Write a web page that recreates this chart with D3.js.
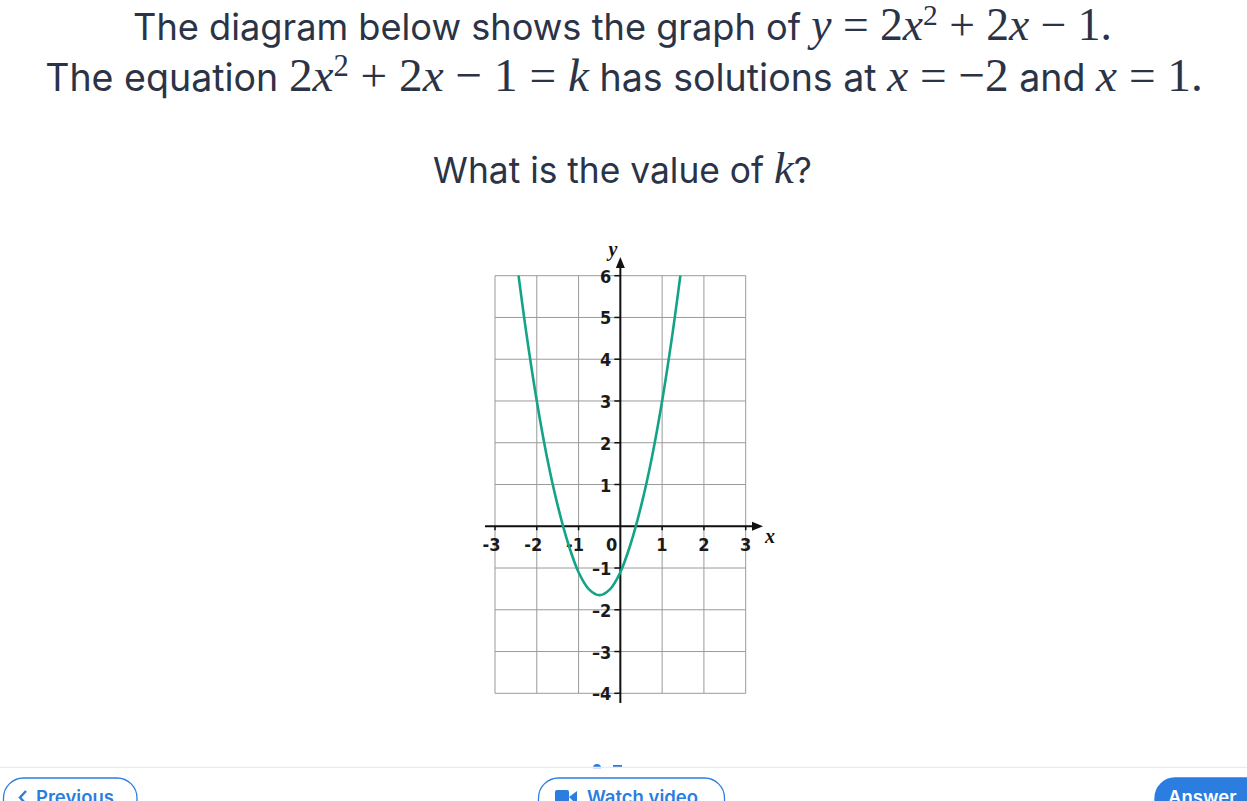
<!DOCTYPE html>
<html>
<head>
<meta charset="utf-8">
<script src="https://cdn.jsdelivr.net/npm/d3@7"></script>
<style>
  html, body { margin: 0; padding: 0; background: #ffffff; overflow: hidden; }
  svg { display: block; }
</style>
</head>
<body>
<svg id="chart" width="1247" height="801"></svg>
<script>
// ---------- data ----------
const xTicks = [-3, -2, -1, 0, 1, 2, 3];
const yTicks = [-4, -3, -2, -1, 1, 2, 3, 4, 5, 6];
const xTickLabels = ["-3", "-2", "-1", "0", "1", "2", "3"];
const yTickLabels = ["–4", "–3", "–2", "–1", "1", "2", "3", "4", "5", "6"];
// points (graph of y = 2x^2 + 2x - 1)
const curveX = [-2.436, -2.25, -2.0, -1.75, -1.5, -1.25, -1.0, -0.75, -0.5, -0.25, 0.0, 0.25, 0.5, 0.75, 1.0, 1.25, 1.436];
const curveY = [6, 4.625, 3, 1.625, 0.5, -0.41, -1.1, -1.51, -1.65, -1.51, -1.1, -0.41, 0.5, 1.625, 3, 4.625, 6];

const textColor = "#2b3447";
const blue = "#2b7de0";
const sans = "Inter, 'Open Sans', sans-serif";
const serif = "'Liberation Serif', 'DejaVu Serif', serif";
const tickFont = "'DejaVu Sans Condensed', 'Liberation Sans Narrow', 'Open Sans', sans-serif";

const svg = d3.select("#chart");

// ---------- question text ----------
function mathLine(parts, cx, baseline, targetWidth) {
  const t = svg.append("text")
    .attr("x", cx).attr("y", baseline)
    .attr("text-anchor", "middle")
    .attr("fill", textColor);
  parts.forEach(p => {
    const ts = t.append("tspan").text(p.t);
    if (p.m) {
      ts.attr("font-family", serif).attr("font-size", p.sup ? 22 : 34)
        .attr("font-style", p.i ? "italic" : "normal");
    } else {
      ts.attr("font-family", sans).attr("font-size", 27);
    }
    if (p.dy) ts.attr("dy", p.dy);
  });
  const w = t.node().getComputedTextLength();
  if (targetWidth) {
    const k = targetWidth / w;
    t.selectAll("tspan").each(function() {
      const s = d3.select(this);
      s.attr("font-size", (+s.attr("font-size")) * k);
    });
  }
  return t;
}

mathLine([
  {t: "The diagram below shows the graph of "},
  {t: "y", m: 1, i: 1}, {t: " = 2", m: 1}, {t: "x", m: 1, i: 1},
  {t: "2", m: 1, sup: 1, dy: -15}, {t: " + 2", m: 1, dy: 15}, {t: "x", m: 1, i: 1}, {t: " − 1.", m: 1}
], 622.5, 40, 979);

mathLine([
  {t: "The equation "},
  {t: "2", m: 1}, {t: "x", m: 1, i: 1}, {t: "2", m: 1, sup: 1, dy: -15}, {t: " + 2", m: 1, dy: 15},
  {t: "x", m: 1, i: 1}, {t: " − 1 = ", m: 1}, {t: "k", m: 1, i: 1},
  {t: " has solutions at "},
  {t: "x", m: 1, i: 1}, {t: " = −2", m: 1},
  {t: " and "},
  {t: "x", m: 1, i: 1}, {t: " = 1.", m: 1}
], 624, 91, 1158);

mathLine([
  {t: "What is the value of "}, {t: "k", m: 1, i: 1}, {t: "?"}
], 622.5, 183, 379);

// ---------- graph ----------
const x = d3.scaleLinear().domain([-3, 3]).range([495, 745.7]);
const y = d3.scaleLinear().domain([-4, 6]).range([693.3, 275.7]);

const g = svg.append("g");

// grid
g.append("g").selectAll("line").data(xTicks).join("line")
  .attr("x1", d => x(d)).attr("x2", d => x(d))
  .attr("y1", y(6)).attr("y2", y(-4))
  .attr("stroke", "#9a9a9a").attr("stroke-width", 1);
g.append("g").selectAll("line").data(d3.range(-4, 7)).join("line")
  .attr("x1", x(-3)).attr("x2", x(3))
  .attr("y1", d => y(d)).attr("y2", d => y(d))
  .attr("stroke", "#9a9a9a").attr("stroke-width", 1);

// axes
const axisColor = "#111";
g.append("line").attr("x1", 485).attr("x2", 756).attr("y1", y(0)).attr("y2", y(0))
  .attr("stroke", axisColor).attr("stroke-width", 2);
g.append("path")
  .attr("d", `M763,${y(0)} L752,${y(0) - 4.5} L752,${y(0) + 4.5} Z`).attr("fill", axisColor);
g.append("line").attr("x1", x(0)).attr("x2", x(0)).attr("y1", 266).attr("y2", 703)
  .attr("stroke", axisColor).attr("stroke-width", 2);
g.append("path")
  .attr("d", `M${x(0)},257 L${x(0) - 4.5},268 L${x(0) + 4.5},268 Z`).attr("fill", axisColor);

// tick marks
g.append("g").selectAll("line").data(xTicks.filter(d => d !== 0)).join("line")
  .attr("x1", d => x(d)).attr("x2", d => x(d))
  .attr("y1", y(0)).attr("y2", y(0) + 4)
  .attr("stroke", axisColor).attr("stroke-width", 1.5);
g.append("g").selectAll("line").data(yTicks).join("line")
  .attr("x1", x(0) - 6).attr("x2", x(0))
  .attr("y1", d => y(d)).attr("y2", d => y(d))
  .attr("stroke", axisColor).attr("stroke-width", 1.5);

// tick labels
g.append("g").selectAll("text").data(xTicks).join("text")
  .attr("x", d => d === 0 ? x(0) - 3 : x(d) + 5.5)
  .attr("y", y(0) + 25)
  .attr("text-anchor", "end")
  .attr("font-family", tickFont).attr("font-size", 18).attr("font-weight", "bold")
  .attr("fill", "#1a1a1a")
  .text((d, i) => xTickLabels[i]);
g.append("g").selectAll("text").data(yTicks).join("text")
  .attr("x", x(0) - 9)
  .attr("y", d => y(d) + 7)
  .attr("text-anchor", "end")
  .attr("font-family", tickFont).attr("font-size", 18).attr("font-weight", "bold")
  .attr("fill", "#1a1a1a")
  .text((d, i) => yTickLabels[i]);

// axis names
g.append("text").attr("x", 770).attr("y", 543).attr("text-anchor", "middle")
  .attr("font-family", serif).attr("font-style", "italic").attr("font-weight", "bold")
  .attr("font-size", 20).attr("fill", "#111").text("x");
g.append("text").attr("x", 613).attr("y", 256).attr("text-anchor", "middle")
  .attr("font-family", serif).attr("font-style", "italic").attr("font-weight", "bold")
  .attr("font-size", 20).attr("fill", "#111").text("y");

// curve
const pts = curveX.map((v, i) => [v, curveY[i]]);
g.append("path")
  .datum(pts)
  .attr("d", d3.line().x(d => x(d[0])).y(d => y(d[1])).curve(d3.curveCatmullRom.alpha(0.5)))
  .attr("fill", "none").attr("stroke", "#14a386").attr("stroke-width", 2.6);

// ---------- bottom bar ----------
svg.append("circle").attr("cx", 597).attr("cy", 768).attr("r", 4).attr("fill", blue);
svg.append("rect").attr("x", 613).attr("y", 765).attr("width", 9).attr("height", 2).attr("fill", blue);
svg.append("line").attr("x1", 0).attr("x2", 1247).attr("y1", 767.5).attr("y2", 767.5)
  .attr("stroke", "#e8ebf3").attr("stroke-width", 1.5);
svg.append("rect").attr("x", 0).attr("y", 768.3).attr("width", 1247).attr("height", 33).attr("fill", "#fff");

function pill(x0, x1, filled) {
  svg.append("rect").attr("x", x0).attr("y", 778).attr("width", x1 - x0).attr("height", 44)
    .attr("rx", 20).attr("ry", 20)
    .attr("fill", filled ? blue : "#fff")
    .attr("stroke", blue).attr("stroke-width", 1.3);
}
pill(3.5, 137, false);
pill(538.5, 724.5, false);
pill(1155, 1290, true);

const btnFont = "Inter, 'Open Sans', sans-serif";
svg.append("path").attr("d", "M26,791 L20,797.5 L26,804").attr("fill", "none")
  .attr("stroke", blue).attr("stroke-width", 2.4);
svg.append("text").attr("x", 36).attr("y", 803.5).attr("font-family", btnFont)
  .attr("font-size", 18.5).attr("font-weight", 600).attr("fill", blue).text("Previous");
svg.append("rect").attr("x", 555).attr("y", 790).attr("width", 14).attr("height", 15).attr("rx", 2).attr("fill", blue);
svg.append("path").attr("d", "M569,797 L577,791 L577,805 Z").attr("fill", blue);
svg.append("text").attr("x", 587).attr("y", 803.5).attr("font-family", btnFont)
  .attr("font-size", 18.5).attr("font-weight", 600).attr("fill", blue).text("Watch video");
svg.append("text").attr("x", 1168).attr("y", 803.5).attr("font-family", btnFont)
  .attr("font-size", 18.5).attr("font-weight", 600).attr("fill", "#fff").text("Answer");
</script>
</body>
</html>
